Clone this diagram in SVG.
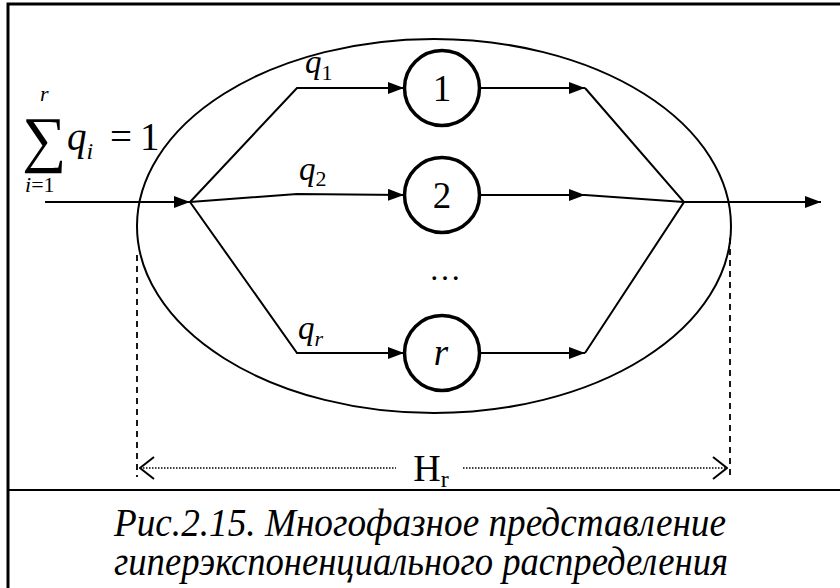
<svg xmlns="http://www.w3.org/2000/svg" width="840" height="588" viewBox="0 0 840 588">
<style>
.ln{stroke:#000;stroke-width:2;fill:none}
.nd{stroke:#000;stroke-width:3.5;fill:#fff}
text{font-family:'Liberation Serif','Times New Roman',Times,serif;fill:#000}
.i{font-style:italic}
</style>
<defs>
<marker id="ah" viewBox="0 0 16 12" refX="16" refY="6" markerWidth="16" markerHeight="12" markerUnits="userSpaceOnUse" orient="auto">
<path d="M0,0 L16,6 L0,12 Z" fill="#000"/>
</marker>
<marker id="oa" viewBox="0 0 16 24" refX="15" refY="12" markerWidth="16" markerHeight="24" markerUnits="userSpaceOnUse" orient="auto-start-reverse">
<path d="M1,1 L15,12 L1,23" fill="none" stroke="#000" stroke-width="2"/>
</marker>
</defs>
<rect x="0" y="0" width="840" height="588" fill="#fff"/>
<rect x="8" y="4" width="850" height="600" fill="none" stroke="#000" stroke-width="3"/>
<line x1="8" y1="490" x2="840" y2="490" stroke="#000" stroke-width="2"/>

<ellipse id="hr-region" cx="434" cy="226" rx="297" ry="187" fill="none" stroke="#000" stroke-width="2"/>

<g id="connectors">
<line class="ln" x1="45" y1="202" x2="190" y2="202" marker-end="url(#ah)"/>
<polyline class="ln" points="190,202 297,88 404,88" marker-end="url(#ah)"/>
<polyline class="ln" points="190,202 297,194 404,195" marker-end="url(#ah)"/>
<polyline class="ln" points="190,202 297,353 404,353" marker-end="url(#ah)"/>
<line class="ln" x1="480" y1="88" x2="585" y2="88" marker-end="url(#ah)"/>
<line class="ln" x1="480" y1="195" x2="585" y2="195" marker-end="url(#ah)"/>
<line class="ln" x1="480" y1="353" x2="585" y2="353" marker-end="url(#ah)"/>
<polyline class="ln" points="585,88 684,202 585,353"/>
<line class="ln" x1="585" y1="195" x2="684" y2="202"/>
<line class="ln" x1="684" y1="202" x2="821" y2="202" marker-end="url(#ah)"/>
<line x1="137" y1="255" x2="137" y2="477" stroke="#000" stroke-width="1.8" stroke-dasharray="6,5"/>
<line x1="730" y1="238" x2="730" y2="477" stroke="#000" stroke-width="1.8" stroke-dasharray="6,5"/>
<line x1="140" y1="468" x2="396" y2="468" stroke="#000" stroke-width="1.5" stroke-dasharray="1.5,1.5" marker-start="url(#oa)"/>
<line x1="463" y1="468" x2="727" y2="468" stroke="#000" stroke-width="1.5" stroke-dasharray="1.5,1.5" marker-end="url(#oa)"/>
</g>

<g id="node1"><circle class="nd" cx="442" cy="88" r="37.5"/><text x="442" y="101" font-size="37" text-anchor="middle">1</text></g>
<g id="node2"><circle class="nd" cx="442" cy="195" r="37.5"/><text x="442" y="208" font-size="37" text-anchor="middle">2</text></g>
<g id="noder"><circle class="nd" cx="442" cy="353" r="37.5"/><text class="i" x="441" y="365" font-size="37" text-anchor="middle">r</text></g>

<g id="labels">
<text class="i" x="305" y="73" font-size="33">q<tspan font-size="22" font-style="normal" dy="7">1</tspan></text>
<text class="i" x="299" y="180" font-size="33">q<tspan font-size="22" font-style="normal" dy="6">2</tspan></text>
<text class="i" x="298" y="339" font-size="33">q<tspan font-size="22" dy="7">r</tspan></text>
<text x="445" y="280" font-size="32" text-anchor="middle">…</text>
<text x="431" y="481" font-size="38" text-anchor="middle">H<tspan font-size="24" dy="6">r</tspan></text>
</g>

<g id="sum">
<text x="22" y="160" font-size="62">∑</text>
<text class="i" x="40" y="101" font-size="22">r</text>
<text x="25" y="192" font-size="22"><tspan font-style="italic">i</tspan>=1</text>
<text class="i" x="67" y="150" font-size="39">q<tspan font-size="24" dy="9">i</tspan></text>
<text x="110" y="150" font-size="39">=</text>
<text x="140" y="150" font-size="39">1</text>
</g>

<g id="caption">
<text class="i" x="420" y="536" font-size="39" text-anchor="middle" textLength="612" lengthAdjust="spacingAndGlyphs">Рис.2.15. Многофазное представление</text>
<text class="i" x="421" y="575" font-size="39" text-anchor="middle" textLength="614" lengthAdjust="spacingAndGlyphs">гиперэкспоненциального распределения</text>
</g>
</svg>
